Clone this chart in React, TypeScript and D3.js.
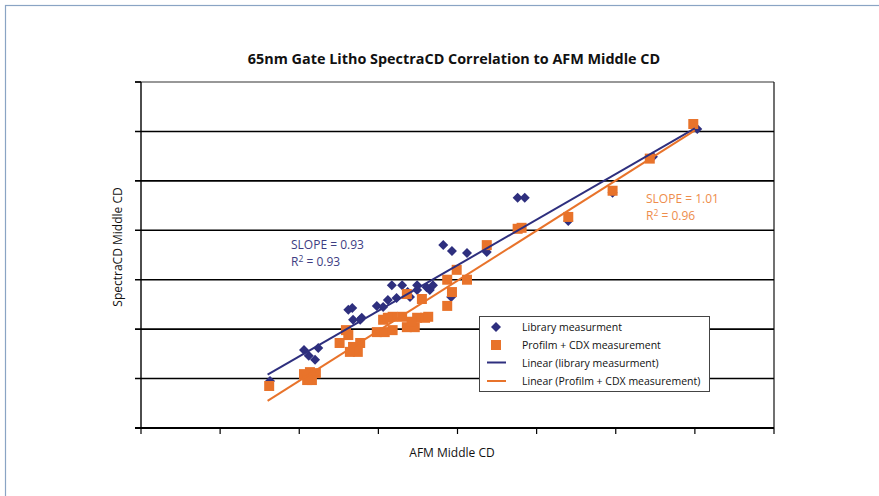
import React from "react";
import * as d3 from "d3";

// ---- data (axis units are unlabeled, 10 units per tick) ----
const libX = [56.3, 60.6, 61.2, 62.4, 62.0, 66.2, 66.7, 66.8, 67.7, 67.9, 69.8, 70.6, 71.2, 72.3, 71.7, 73.0, 73.7, 74.0, 74.9, 74.9, 76.1, 76.5, 76.9, 79.2, 78.2, 79.3, 81.2, 83.7, 87.6, 88.5, 94.0, 99.6, 104.7, 110.3];
const libY = [49.5, 55.8, 54.6, 56.2, 53.8, 63.9, 64.3, 61.9, 61.9, 62.3, 64.7, 64.5, 65.9, 66.3, 68.9, 68.9, 67.5, 66.5, 68.9, 67.9, 68.5, 67.9, 68.9, 66.5, 77.0, 75.8, 75.4, 75.6, 86.6, 86.6, 81.9, 87.6, 94.9, 100.5];

const cdxX = [56.2, 60.6, 61.35, 62.1, 61.6, 61.0, 65.9, 65.1, 66.2, 66.8, 67.7, 67.4, 66.4, 69.8, 70.8, 71.8, 70.6, 71.8, 73.0, 71.2, 73.6, 74.6, 74.9, 75.9, 76.3, 74.2, 73.6, 75.5, 78.7, 79.9, 79.3, 78.7, 81.2, 83.7, 87.6, 88.1, 94.0, 99.6, 104.3, 109.8];
const cdxY = [48.5, 50.9, 51.3, 51.1, 49.7, 49.7, 59.8, 57.2, 58.8, 56.4, 57.2, 55.4, 55.4, 59.4, 59.4, 59.8, 61.9, 62.5, 62.5, 62.3, 60.4, 60.4, 62.3, 62.3, 62.5, 61.5, 67.1, 66.1, 70.0, 72.0, 67.5, 64.7, 70.0, 77.0, 80.3, 80.5, 82.7, 88.0, 94.5, 101.5];

const libTrendX = [56.0, 110.0];
const libTrendY = [50.8, 100.6];
const cdxTrendX = [56.0, 110.0];
const cdxTrendY = [45.5, 100.2];

const xTicks = [40, 50, 60, 70, 80, 90, 100, 110, 120];
const yTicks = [40, 50, 60, 70, 80, 90, 100, 110];

const title = "65nm Gate Litho SpectraCD Correlation to AFM Middle CD";
const xTitle = "AFM Middle CD";
const yTitle = "SpectraCD Middle CD";
const legendLabels = [
  "Library measurment",
  "Profilm + CDX measurement",
  "Linear (library measurment)",
  "Linear (Profilm + CDX measurement)",
];
const libNote = ["SLOPE = 0.93", "0.93"];
const cdxNote = ["SLOPE = 1.01", "0.96"];

const NAVY = "#2e2f7e";
const ORANGE = "#e8732b";
const ORANGE_TXT = "#ee8d4c";
const NAVY_TXT = "#3d3d82";
const FONT = "'Open Sans', 'DejaVu Sans', sans-serif";

export default function App() {
  const W = 879, H = 496;
  const left = 141, right = 774, top = 82, bottom = 428;
  const x = d3.scaleLinear().domain([40, 120]).range([left, right]);
  const y = d3.scaleLinear().domain([40, 110]).range([bottom, top]);

  const lib = libX.map((v, i) => [v, libY[i]] as [number, number]);
  const cdx = cdxX.map((v, i) => [v, cdxY[i]] as [number, number]);
  const line = d3.line<[number, number]>().x(d => x(d[0])).y(d => y(d[1]));
  const libTrend = libTrendX.map((v, i) => [v, libTrendY[i]] as [number, number]);
  const cdxTrend = cdxTrendX.map((v, i) => [v, cdxTrendY[i]] as [number, number]);

  const diamond = (cx: number, cy: number, r: number) =>
    `M${cx},${cy - r}L${cx + r},${cy}L${cx},${cy + r}L${cx - r},${cy}Z`;
  const sq = 10;

  const lgX = 479, lgY = 316, lgW = 230, lgH = 75;
  const rowY = [327, 345, 362.5, 381];

  return (
    <svg width={W} height={H} style={{ position: "absolute", left: 0, top: 0, background: "#fff" }} fontFamily={FONT}>
      <rect x={5.5} y={5.5} width={W + 20} height={H + 20} fill="#fff" stroke="#8aa4c4" strokeWidth={1.2} />
      <text x={454} y={64} textAnchor="middle" fontSize={14.4} fontWeight="bold" fill="#111">{title}</text>

      {/* plot frame */}
      <line x1={left - 6} x2={right} y1={top} y2={top} stroke="#333" strokeWidth={1.2} />
      <line x1={right} x2={right} y1={top} y2={bottom} stroke="#111" strokeWidth={1.2} />
      {yTicks.slice(1, -1).map(t => (
        <line key={"g" + t} x1={left - 6} x2={right} y1={y(t)} y2={y(t)} stroke="#000" strokeWidth={1.6} />
      ))}
      <line x1={left - 6} x2={left} y1={top} y2={top} stroke="#000" strokeWidth={1.6} />
      <line x1={left} x2={left} y1={top} y2={bottom} stroke="#000" strokeWidth={1.4} />
      <line x1={left - 6} x2={right} y1={bottom} y2={bottom} stroke="#000" strokeWidth={1.8} />
      {xTicks.map(t => (
        <line key={"xt" + t} x1={x(t)} x2={x(t)} y1={bottom} y2={bottom + 6} stroke="#000" strokeWidth={1.2} />
      ))}

      {/* series */}
      {lib.map((d, i) => (
        <path key={"l" + i} d={diamond(x(d[0]), y(d[1]), 5)} fill={NAVY} />
      ))}
      {cdx.map((d, i) => (
        <rect key={"c" + i} x={x(d[0]) - sq / 2} y={y(d[1]) - sq / 2} width={sq} height={sq} fill={ORANGE} />
      ))}
      <path d={line(libTrend) || ""} stroke={NAVY} strokeWidth={2} fill="none" />
      <path d={line(cdxTrend) || ""} stroke={ORANGE} strokeWidth={2} fill="none" />

      {/* annotations */}
      <text x={291} y={249} fontSize={12} fill={NAVY_TXT}>{libNote[0]}</text>
      <text x={291} y={266} fontSize={12} fill={NAVY_TXT}>
        R<tspan dy={-4} fontSize={8.5}>2</tspan><tspan dy={4}>{" = " + libNote[1]}</tspan>
      </text>
      <text x={646} y={203} fontSize={12} fill={ORANGE_TXT}>{cdxNote[0]}</text>
      <text x={646} y={220} fontSize={12} fill={ORANGE_TXT}>
        R<tspan dy={-4} fontSize={8.5}>2</tspan><tspan dy={4}>{" = " + cdxNote[1]}</tspan>
      </text>

      {/* legend */}
      <rect x={lgX + 0.5} y={lgY + 0.5} width={lgW} height={lgH} fill="#fff" stroke="#444" strokeWidth={1} />
      <path d={diamond(496, rowY[0], 5)} fill={NAVY} />
      <rect x={491} y={rowY[1] - 5} width={10} height={10} fill={ORANGE} />
      <line x1={487} x2={506} y1={rowY[2]} y2={rowY[2]} stroke={NAVY} strokeWidth={2} />
      <line x1={487} x2={506} y1={rowY[3]} y2={rowY[3]} stroke={ORANGE} strokeWidth={2} />
      {legendLabels.map((s, i) => (
        <text key={s} x={522} y={rowY[i] + 4} fontSize={10.5} fill="#111">{s}</text>
      ))}

      {/* axis titles */}
      <text x={452} y={457} textAnchor="middle" fontSize={12} fill="#111">{xTitle}</text>
      <text transform={`translate(122,247) rotate(-90)`} textAnchor="middle" fontSize={12} fill="#111">{yTitle}</text>
    </svg>
  );
}
